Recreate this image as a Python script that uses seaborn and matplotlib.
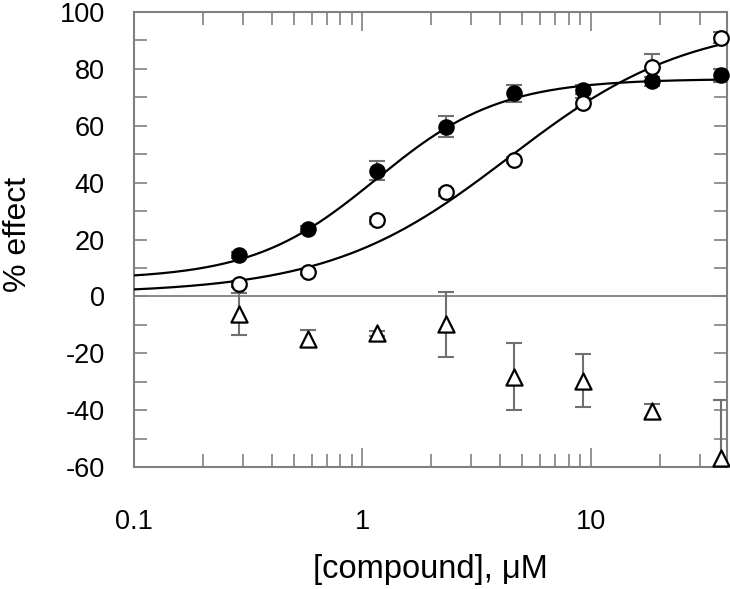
import numpy as np
import pandas as pd
import matplotlib
matplotlib.use("Agg")
import matplotlib.pyplot as plt
import seaborn as sns
from matplotlib.ticker import LogLocator, FixedLocator, NullFormatter

# concentrations (uM)
conc = [0.289, 0.578, 1.156, 2.3125, 4.625, 9.25, 18.5, 37.0]

# filled circles
filled = [14.5, 23.7, 44.2, 59.7, 71.5, 72.7, 75.6, 77.7]
filled_err = [1.0, 1.0, 3.3, 3.7, 3.0, 1.5, 1.5, 2.2]

# open circles
opened = [4.3, 8.7, 26.8, 36.6, 47.9, 68.1, 80.5, 91.0]
opened_err = [1.0, 1.0, 1.2, 1.2, 1.0, 1.6, 4.7, 2.0]

# open triangles
tri = [-6.2, -14.8, -13.0, -9.8, -28.2, -29.6, -40.3, -56.8]
tri_err = [7.3, 3.0, 1.0, 11.4, 11.8, 9.2, 2.5, 20.4]

# 4-parameter logistic fits: bottom, top, EC50, Hill
fit_filled = dict(bottom=6.0, top=76.5, ec50=1.15, hill=1.6)
fit_open = dict(bottom=1.0, top=97.0, ec50=4.4, hill=1.1)


def logistic(x, bottom, top, ec50, hill):
    return bottom + (top - bottom) / (1 + (ec50 / x) ** hill)


sns.set_style("white")
plt.rcParams['font.family'] = ['Liberation Sans', 'DejaVu Sans']
plt.rcParams['axes.unicode_minus'] = False
plt.rcParams['text.color'] = 'black'
plt.rcParams['axes.labelcolor'] = 'black'
plt.rcParams['xtick.labelcolor'] = 'black'
plt.rcParams['ytick.labelcolor'] = 'black'

fig = plt.figure(figsize=(7.3, 5.89), dpi=100)
ax = fig.add_axes([0.1836, 0.207, 0.8124, 0.7726])

xs = np.logspace(-1, np.log10(40), 300)
curves = pd.concat([
    pd.DataFrame({'x': xs, 'y': logistic(xs, **fit_filled), 'fit': 'filled'}),
    pd.DataFrame({'x': xs, 'y': logistic(xs, **fit_open), 'fit': 'open'}),
])
sns.lineplot(data=curves, x='x', y='y', units='fit', estimator=None,
             color='black', linewidth=1.6, ax=ax, zorder=3)

ax.axhline(0, color='#808080', linewidth=1.3, zorder=1)

grey = '#707070'
for vals, errs in [(filled, filled_err), (opened, opened_err), (tri, tri_err)]:
    ax.errorbar(conc, vals, yerr=errs, fmt='none', ecolor=grey,
                elinewidth=1.5, capsize=5.5, capthick=1.5, zorder=2)

df_f = pd.DataFrame({'x': conc, 'y': filled})
df_o = pd.DataFrame({'x': conc, 'y': opened})
df_t = pd.DataFrame({'x': conc, 'y': tri})
sns.scatterplot(data=df_f, x='x', y='y', marker='o', s=115, color='black',
                edgecolor='black', linewidth=1.2, ax=ax, zorder=4, clip_on=False)
sns.scatterplot(data=df_o, x='x', y='y', marker='o', s=110, color='white',
                edgecolor='black', linewidth=1.6, ax=ax, zorder=4, clip_on=False)
sns.scatterplot(data=df_t, x='x', y='y', marker='^', s=135, color='white',
                edgecolor='black', linewidth=1.6, ax=ax, zorder=4, clip_on=False)

ax.set_xscale('log')
ax.set_xlim(0.1, 39.5)
ax.set_ylim(-60, 100)

ax.xaxis.set_major_locator(FixedLocator([0.1, 1, 10]))
ax.set_xticklabels(['0.1', '1', '10'])
ax.xaxis.set_minor_locator(LogLocator(base=10, subs=np.arange(2, 10)))
ax.xaxis.set_minor_formatter(NullFormatter())
ax.set_yticks(np.arange(-60, 101, 20))
ax.set_yticks(np.arange(-50, 100, 20), minor=True)

ax.tick_params(axis='x', which='major', direction='in', length=14, width=1.2,
               color='#808080', top=True, bottom=True, pad=30, labelsize=19.5)
ax.tick_params(axis='x', which='minor', direction='in', length=9.5, width=1.2,
               color='#808080', top=True, bottom=True)
ax.tick_params(axis='y', which='both', direction='in', length=9.5, width=1.2,
               color='#808080', left=True, right=True, pad=21, labelsize=19.5)

for sp in ax.spines.values():
    sp.set_color('#808080')
    sp.set_linewidth(1.5)

ax.set_xlabel('[compound], \u03bcM', fontsize=23.5, labelpad=14)
ax.set_ylabel('% effect', fontsize=23)
ax.yaxis.set_label_coords(-0.17, 0.512)
ax.grid(False)

fig.savefig('out.png', dpi=100)
